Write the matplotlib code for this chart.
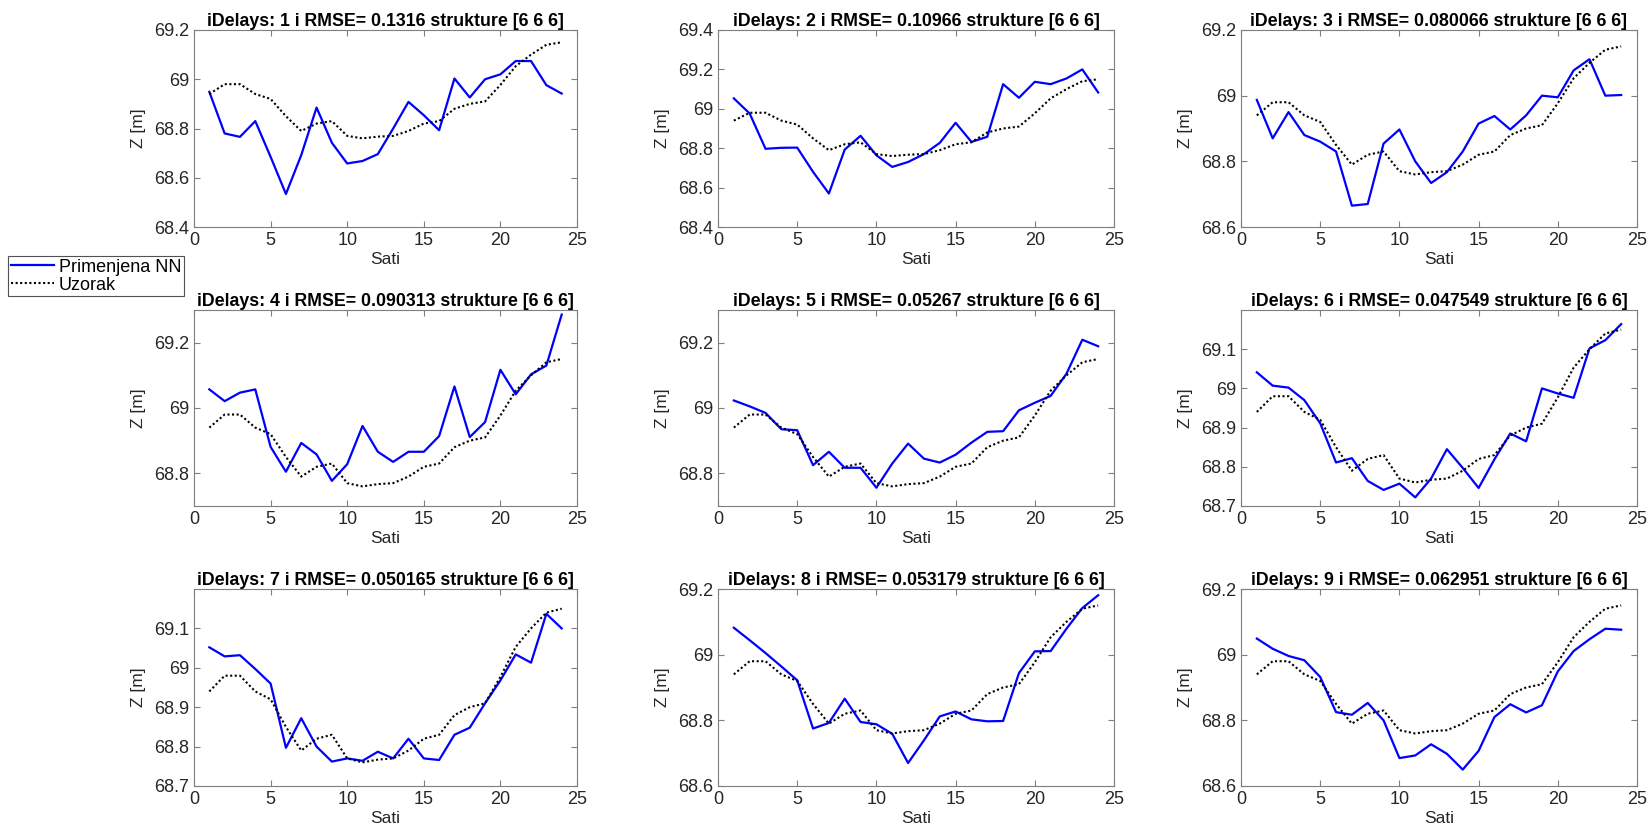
import matplotlib.pyplot as plt
import numpy as np

plt.rcParams['font.family'] = ['Liberation Sans', 'DejaVu Sans']

sati = np.arange(1, 25)

uzorak = [68.94, 68.98, 68.98, 68.94, 68.92, 68.85, 68.79, 68.82, 68.83, 68.77, 68.76, 68.767,
          68.77, 68.79, 68.82, 68.83, 68.88, 68.90, 68.91, 68.977, 69.053, 69.10, 69.14, 69.15]

nn_1 = [68.949, 68.78, 68.766, 68.83, 68.685, 68.534, 68.692, 68.885, 68.742, 68.658, 68.668, 68.696,
        68.80, 68.908, 68.854, 68.793, 69.003, 68.926, 69.0, 69.02, 69.074, 69.074, 68.976, 68.942]
nn_2 = [69.053, 68.976, 68.797, 68.802, 68.803, 68.68, 68.57, 68.793, 68.863, 68.764, 68.705, 68.73,
        68.77, 68.827, 68.929, 68.832, 68.858, 69.125, 69.056, 69.137, 69.125, 69.154, 69.2, 69.083]
nn_3 = [68.987, 68.87, 68.95, 68.88, 68.86, 68.83, 68.665, 68.67, 68.854, 68.897, 68.80, 68.734,
        68.767, 68.83, 68.915, 68.938, 68.897, 68.94, 69.0, 68.995, 69.077, 69.111, 69.0, 69.002]
nn_4 = [69.057, 69.021, 69.047, 69.057, 68.881, 68.805, 68.893, 68.858, 68.777, 68.828, 68.945, 68.866,
        68.835, 68.866, 68.866, 68.914, 69.066, 68.911, 68.957, 69.117, 69.042, 69.103, 69.13, 69.286]
nn_5 = [69.023, 69.005, 68.985, 68.935, 68.932, 68.825, 68.866, 68.817, 68.817, 68.756, 68.83, 68.891,
        68.845, 68.833, 68.857, 68.894, 68.927, 68.929, 68.993, 69.016, 69.037, 69.105, 69.209, 69.189]
nn_6 = [69.041, 69.007, 69.002, 68.970, 68.911, 68.811, 68.822, 68.764, 68.741, 68.757, 68.722, 68.77,
        68.845, 68.797, 68.746, 68.819, 68.885, 68.865, 69.0, 68.987, 68.976, 69.102, 69.123, 69.164]
nn_7 = [69.052, 69.029, 69.032, 68.997, 68.96, 68.797, 68.872, 68.80, 68.762, 68.77, 68.764, 68.787,
        68.77, 68.82, 68.77, 68.766, 68.83, 68.848, 68.91, 68.968, 69.034, 69.013, 69.137, 69.10]
nn_8 = [69.082, 69.044, 69.005, 68.964, 68.922, 68.775, 68.792, 68.866, 68.795, 68.788, 68.759, 68.67,
        68.739, 68.812, 68.827, 68.803, 68.797, 68.798, 68.944, 69.01, 69.011, 69.079, 69.142, 69.181]
nn_9 = [69.049, 69.018, 68.996, 68.983, 68.932, 68.825, 68.817, 68.853, 68.80, 68.685, 68.693, 68.727,
        68.698, 68.65, 68.707, 68.81, 68.849, 68.824, 68.846, 68.949, 69.011, 69.047, 69.079, 69.076]

nn_all = [nn_1, nn_2, nn_3, nn_4, nn_5, nn_6, nn_7, nn_8, nn_9]
rmse = ['0.1316', '0.10966', '0.080066', '0.090313', '0.05267', '0.047549', '0.050165', '0.053179', '0.062951']

ylims = [(68.4, 69.2), (68.4, 69.4), (68.6, 69.2),
         (68.7, 69.3), (68.7, 69.3), (68.7, 69.2),
         (68.7, 69.2), (68.6, 69.2), (68.6, 69.2)]
yticks = [[68.4, 68.6, 68.8, 69.0, 69.2], [68.4, 68.6, 68.8, 69.0, 69.2, 69.4], [68.6, 68.8, 69.0, 69.2],
          [68.8, 69.0, 69.2], [68.8, 69.0, 69.2], [68.7, 68.8, 68.9, 69.0, 69.1],
          [68.7, 68.8, 68.9, 69.0, 69.1], [68.6, 68.8, 69.0, 69.2], [68.6, 68.8, 69.0, 69.2]]

W, H = 1650, 839
fig = plt.figure(figsize=(W / 100, H / 100), dpi=100)

# pixel boxes of the axes (left, right) and (top, bottom)
cols = [(194, 577), (718, 1114), (1241, 1637)]
rows = [(30, 227), (310, 506), (589, 786)]

txt = '#262626'
edge = '#7f7f7f'

for i in range(9):
    r, c = divmod(i, 3)
    l, rr = cols[c]
    t, b = rows[r]
    ax = fig.add_axes([l / W, 1 - b / H, (rr - l) / W, (b - t) / H])
    h1, = ax.plot(sati, nn_all[i], color='#0000ff', lw=1.6, label='Primenjena NN')
    h2, = ax.plot(sati, uzorak, color='black', ls=(0, (1, 1.2)), lw=1.5, label='Uzorak')
    ax.set_xlim(0, 25)
    ax.set_xticks([0, 5, 10, 15, 20, 25])
    ax.set_ylim(*ylims[i])
    ax.set_yticks(yticks[i])
    ax.set_yticklabels(['%g' % v for v in yticks[i]])
    ax.tick_params(direction='in', top=True, right=True, labelsize=13, colors=edge,
                   labelcolor=txt, length=4, width=0.8)
    for s in ax.spines.values():
        s.set_color(edge)
        s.set_linewidth(0.8)
    ax.set_title('iDelays: %d i RMSE= %s strukture [6 6 6]' % (i + 1, rmse[i]),
                 fontsize=12.8, fontweight='bold', color='black', pad=3)
    ax.set_xlabel('Sati', fontsize=12.5, color=txt, labelpad=2)
    ax.set_ylabel('Z [m]', fontsize=12.5, color=txt, labelpad=6)

leg = fig.legend([h1, h2], ['Primenjena NN', 'Uzorak'], loc='upper left',
                 bbox_to_anchor=(8 / W, 1 - 256 / H), fontsize=13, frameon=True,
                 fancybox=False, handlelength=2.4, handletextpad=0.25, borderpad=0.15,
                 labelspacing=0.05, borderaxespad=0)
leg.get_frame().set_edgecolor('#262626')
leg.get_frame().set_linewidth(0.8)

fig.savefig('out.png', dpi=100)
